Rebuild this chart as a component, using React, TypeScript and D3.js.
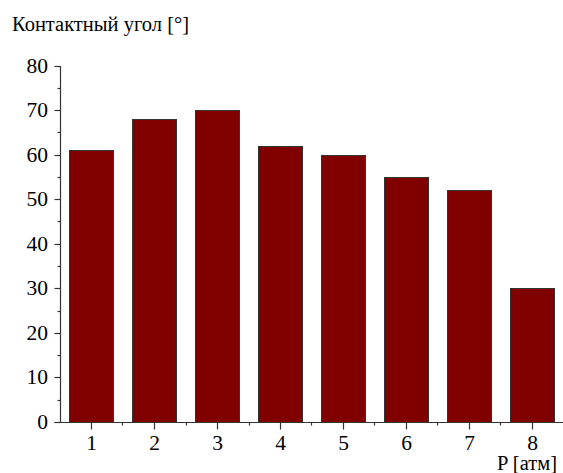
import React from "react";
import * as d3 from "d3";

const categories = ["1", "2", "3", "4", "5", "6", "7", "8"];
const values = [61, 68, 70, 62, 60, 55, 52, 30];
const yTicks = [0, 10, 20, 30, 40, 50, 60, 70, 80];
const yMinorTicks = [5, 15, 25, 35, 45, 55, 65, 75];
const yTitle = "Контактный угол [°]";
const xTitle = "P [атм]";

const W = 563;
const H = 473;
const FONT = "Liberation Serif";
const AXIS = "#333";

export default function App() {
  const x = d3.scaleBand<string>().domain(categories).range([59.5, 563.5]).paddingInner(0.3).paddingOuter(0.15);
  const y = d3.scaleLinear().domain([0, 80]).range([422, 65.5]);
  const x0 = 60.5;
  const y0 = Math.round(y(0)) + 0.5;
  const step = x.step();
  const boundaries = categories.slice(0, -1).map((c) => (x(c) as number) + x.bandwidth() + (step - x.bandwidth()) / 2);
  const ts = { fontFamily: FONT } as React.CSSProperties;

  return (
    <svg width={W} height={H} style={{ position: "absolute", left: 0, top: 0, background: "#fff" }}>
      <text x={12} y={31} fontSize={20.5} fill="#000" style={ts}>{yTitle}</text>
      {values.map((v, i) => (
        <rect
          key={i}
          x={Math.round(x(categories[i]) as number) + 0.5}
          y={Math.round(y(v)) + 0.5}
          width={Math.round(x.bandwidth())}
          height={Math.round(y(0)) - Math.round(y(v))}
          fill="#800000"
          stroke="#333"
          strokeWidth={1}
        />
      ))}
      <line x1={x0} x2={x0} y1={Math.round(y(80))} y2={y0} stroke={AXIS} strokeWidth={1.2} />
      <line x1={x0 - 6} x2={W} y1={y0} y2={y0} stroke={AXIS} strokeWidth={1.2} />
      {yTicks.map((t) => (
        <g key={t}>
          <line x1={x0 - 6} x2={x0} y1={Math.round(y(t)) + 0.5} y2={Math.round(y(t)) + 0.5} stroke={AXIS} strokeWidth={1.2} />
          <text x={48} y={y(t) + 7} fontSize={21.5} textAnchor="end" fill="#000" style={ts}>{t}</text>
        </g>
      ))}
      {yMinorTicks.map((t) => (
        <line key={t} x1={x0 - 3} x2={x0} y1={Math.round(y(t)) + 0.5} y2={Math.round(y(t)) + 0.5} stroke={AXIS} strokeWidth={1.2} />
      ))}
      {categories.map((c) => {
        const cx = Math.round((x(c) as number) + x.bandwidth() / 2) + 0.5;
        return (
          <g key={c}>
            <line x1={cx} x2={cx} y1={y0} y2={y0 + 7} stroke={AXIS} strokeWidth={1.2} />
            <text x={cx} y={450} fontSize={21.5} textAnchor="middle" fill="#000" style={ts}>{c}</text>
          </g>
        );
      })}
      {boundaries.map((b, i) => (
        <line key={i} x1={Math.round(b) + 0.5} x2={Math.round(b) + 0.5} y1={y0} y2={y0 + 3} stroke={AXIS} strokeWidth={1.2} />
      ))}
      <text x={557} y={470} fontSize={20.5} textAnchor="end" fill="#000" style={ts}>{xTitle}</text>
    </svg>
  );
}
